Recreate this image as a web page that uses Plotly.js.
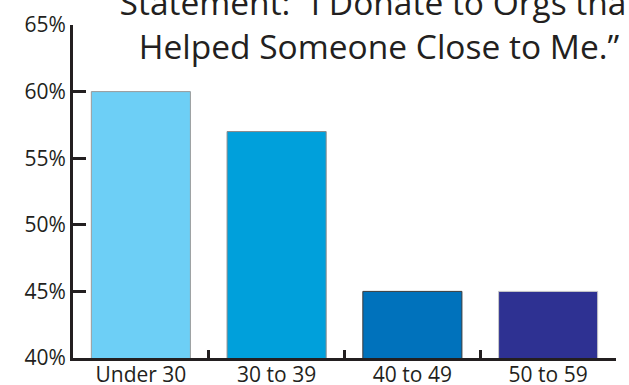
<!DOCTYPE html>
<html>
<head>
<meta charset="utf-8">
<script src="https://cdn.plot.ly/plotly-3.0.1.min.js"></script>
<style>
  html, body { margin: 0; padding: 0; background: #ffffff; }
  #chart { width: 629px; height: 385px; }
</style>
</head>
<body>
<div id="chart"></div>
<script>
// Age groups and share agreeing with the statement (percent)
const ageGroups = ["Under 30", "30 to 39", "40 to 49", "50 to 59"];
const agreePct = [60, 57, 45, 45];
const barColors = ["#6dcff6", "#00a0db", "#0072bc", "#2e3192"];
const barEdges = ["#9a9a9a", "#8a8a8a", "#3a3a3a", "#c8c8c8"];
const yTicks = [40, 45, 50, 55, 60, 65];
const titleText = "Statement: \u201CI Donate to Orgs that<br>Helped Someone Close to Me.\u201D";

const ink = "#231f20";
const fontFamily = "'Open Sans', 'Noto Sans', sans-serif";

const trace = {
  type: "bar",
  x: ageGroups,
  y: agreePct,
  marker: {
    color: barColors,
    line: { color: barEdges, width: 1 }
  },
  width: 0.73,
  hoverinfo: "skip"
};

const layout = {
  width: 629,
  height: 385,
  margin: { l: 73, r: 13, t: 25, b: 27, pad: 0 },
  paper_bgcolor: "#ffffff",
  plot_bgcolor: "#ffffff",
  showlegend: false,
  font: { family: fontFamily, color: ink, size: 21 },
  title: {
    text: titleText,
    font: { family: fontFamily, size: 33.5, color: ink },
    xref: "paper",
    x: 0.5635,
    xanchor: "center",
    yref: "container",
    y: 0.960,
    yanchor: "middle"
  },
  xaxis: {
    type: "category",
    range: [-0.5, 3.5],
    showline: true,
    linecolor: ink,
    linewidth: 3,
    ticks: "inside",
    tickson: "boundaries",
    ticklen: 8,
    tickwidth: 3,
    tickcolor: ink,
    ticklabelstandoff: -4,
    showgrid: false,
    zeroline: false,
    tickfont: { family: fontFamily, size: 21, color: ink },
    fixedrange: true
  },
  yaxis: {
    range: [40, 65],
    tickmode: "array",
    tickvals: yTicks,
    ticktext: yTicks.map(v => v + "%"),
    showline: true,
    linecolor: ink,
    linewidth: 3,
    ticks: "inside",
    ticklen: 13,
    tickwidth: 3,
    tickcolor: ink,
    showgrid: false,
    zeroline: false,
    tickfont: { family: fontFamily, size: 21, color: ink },
    fixedrange: true
  }
};

Plotly.newPlot("chart", [trace], layout, { displayModeBar: false, staticPlot: true });
</script>
</body>
</html>
